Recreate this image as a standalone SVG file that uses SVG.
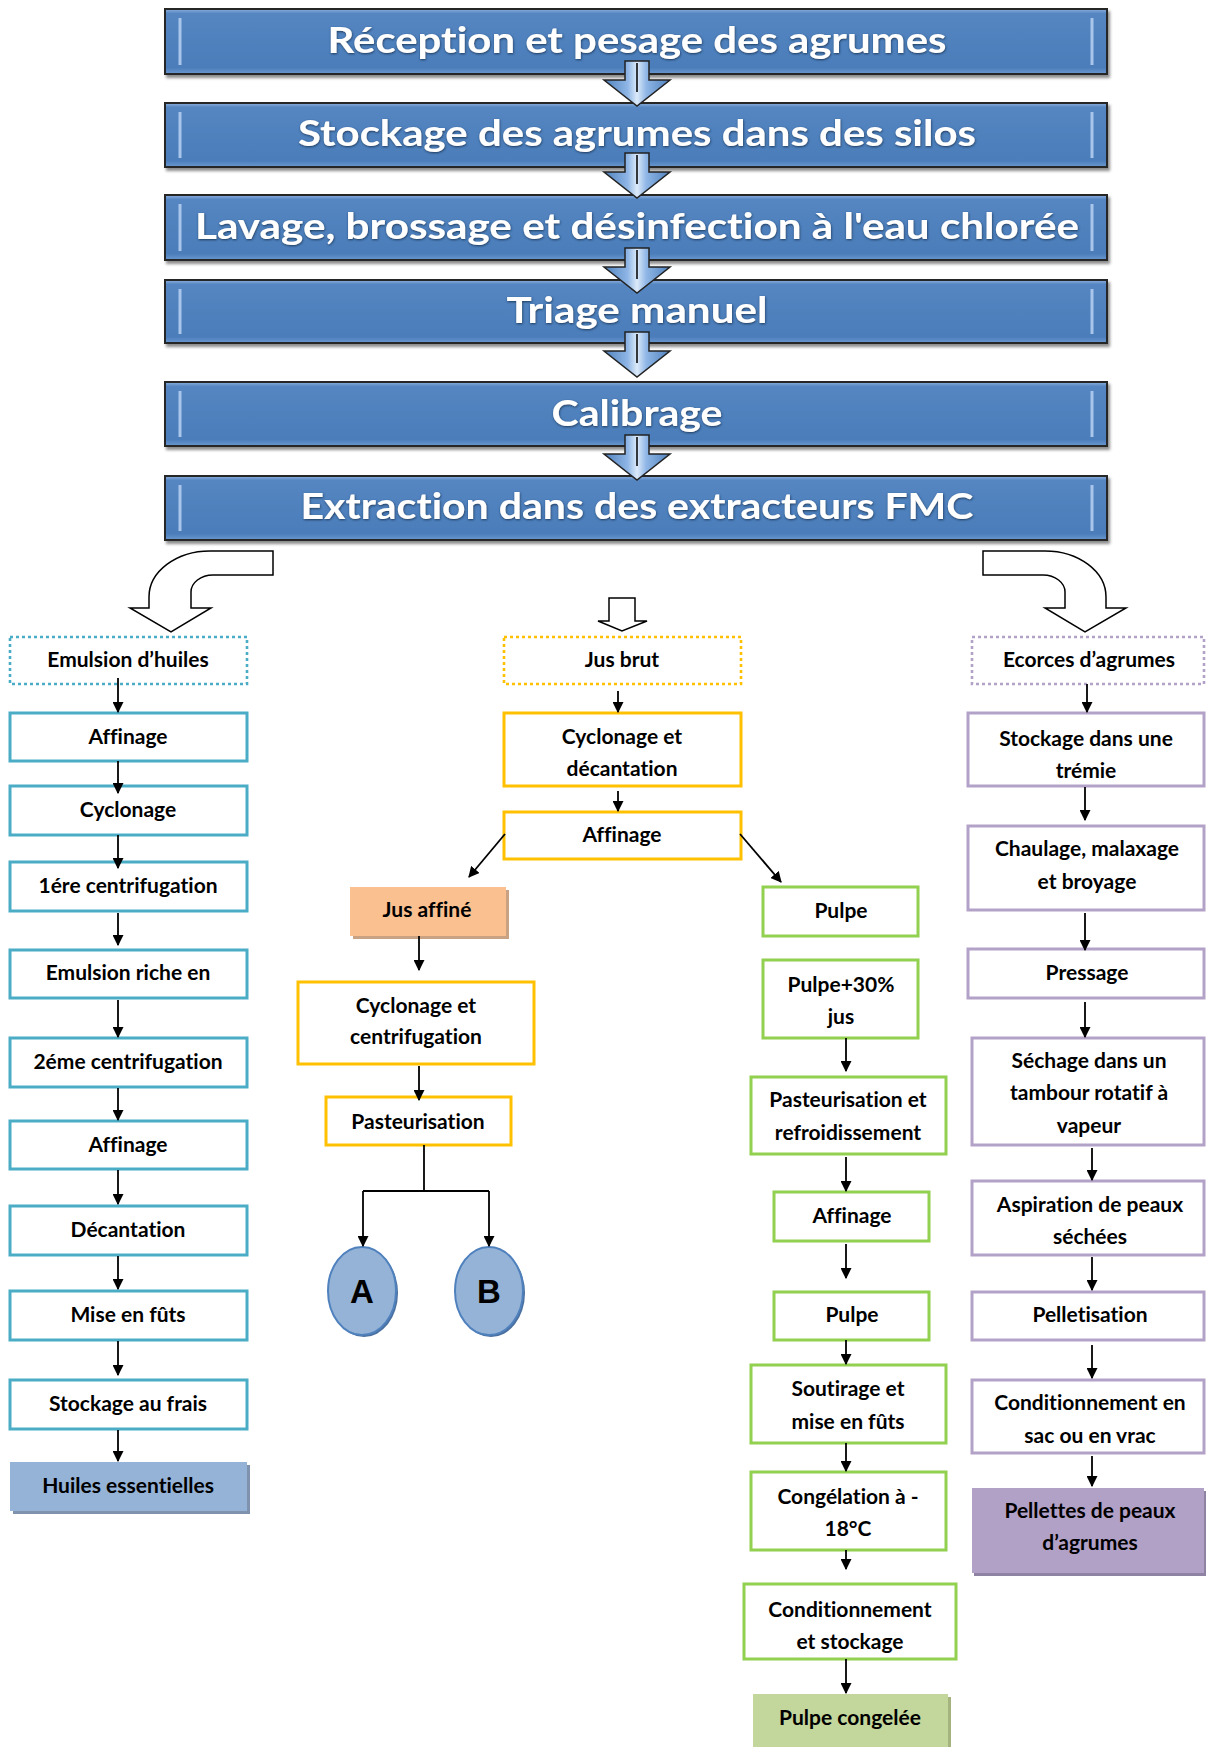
<svg xmlns="http://www.w3.org/2000/svg" width="1206" height="1747" viewBox="0 0 1206 1747">
<defs>
<style>
.t{font-family:Lato,"Liberation Sans",sans-serif;font-weight:bold;font-size:21px;fill:#000;text-anchor:middle;dominant-baseline:central;font-variant-ligatures:none;transform:translateY(-2px)}
.tt{font-family:Lato,"Liberation Sans",sans-serif;font-weight:bold;font-size:36px;fill:#fff;text-anchor:middle;dominant-baseline:central;font-variant-ligatures:none;transform:translateY(-2px)}
.ab{font-family:"Liberation Sans",Arial,sans-serif;font-weight:bold;font-size:33px;fill:#000;text-anchor:middle;dominant-baseline:central}
.bx{fill:#fff;stroke-width:3}
.teal{stroke:#4BACC6}
.yel{stroke:#FFC000}
.grn{stroke:#92D050}
.pur{stroke:#B3A2C7}
.dot{stroke-dasharray:3 3;stroke-width:2.6}
.top{fill:url(#gTop);stroke:#262626;stroke-width:2}
.bar{stroke:#A9C6EA;stroke-width:3}
.blk{fill:url(#gArr);stroke:#222;stroke-width:1.5;stroke-linejoin:miter}
.conn line,.conn polyline{stroke:#000;stroke-width:1.8;fill:none}
.ar{marker-end:url(#ah)}
.hollow{fill:#fff;stroke:#000;stroke-width:1.5}
.stripe{stroke:#fff;stroke-width:2;opacity:.85}
</style>
<linearGradient id="gTop" x1="0" y1="0" x2="0" y2="1">
<stop offset="0" stop-color="#8DB0DE"/>
<stop offset="0.07" stop-color="#5586C2"/>
<stop offset="0.5" stop-color="#4F81BD"/>
<stop offset="0.9" stop-color="#4B7DBA"/>
<stop offset="1" stop-color="#6A98D0"/>
</linearGradient>
<linearGradient id="gArr" x1="0" y1="0" x2="1" y2="0">
<stop offset="0" stop-color="#4F81BD"/>
<stop offset="0.36" stop-color="#8FB6E6"/>
<stop offset="0.5" stop-color="#DCEAF9"/>
<stop offset="0.64" stop-color="#8FB6E6"/>
<stop offset="1" stop-color="#4F81BD"/>
</linearGradient>
<filter id="sh" x="-5%" y="-20%" width="110%" height="150%">
<feDropShadow dx="2" dy="3" stdDeviation="1.5" flood-color="#000" flood-opacity="0.45"/>
</filter>
<filter id="tsh" x="-5%" y="-30%" width="110%" height="160%">
<feDropShadow dx="0.5" dy="1" stdDeviation="1.2" flood-color="#14304F" flood-opacity="0.9"/>
</filter>
<marker id="ah" viewBox="0 0 10 10" refX="9" refY="5" markerWidth="11" markerHeight="11" markerUnits="userSpaceOnUse" orient="auto">
<path d="M0,0 L10,5 L0,10 Z" fill="#000"/>
</marker>
<path id="blockArrow" d="M-12,0 L12,0 L12,19 L33,19 L0,45 L-33,19 L-12,19 Z"/>
</defs>
<rect x="0" y="0" width="1206" height="1747" fill="#fff"/>

<!-- Top process boxes -->
<g id="b1" filter="url(#sh)">
<rect class="top" x="165" y="9" width="942" height="65"/>
<line class="bar" x1="180" y1="18" x2="180" y2="65"/><line class="bar" x1="1092" y1="18" x2="1092" y2="65"/>
<text class="tt" x="637" y="41" textLength="619" lengthAdjust="spacingAndGlyphs" filter="url(#tsh)">Réception et pesage des agrumes</text>
</g>
<g id="b2" filter="url(#sh)">
<rect class="top" x="165" y="103" width="942" height="64"/>
<line class="bar" x1="180" y1="112" x2="180" y2="158"/><line class="bar" x1="1092" y1="112" x2="1092" y2="158"/>
<text class="tt" x="637" y="134" textLength="678" lengthAdjust="spacingAndGlyphs" filter="url(#tsh)">Stockage des agrumes dans des silos</text>
</g>
<g id="b3" filter="url(#sh)">
<rect class="top" x="165" y="195" width="942" height="65"/>
<line class="bar" x1="180" y1="204" x2="180" y2="251"/><line class="bar" x1="1092" y1="204" x2="1092" y2="251"/>
<text class="tt" x="637" y="227" textLength="884" lengthAdjust="spacingAndGlyphs" filter="url(#tsh)">Lavage, brossage et désinfection à l'eau chlorée</text>
</g>
<g id="b4" filter="url(#sh)">
<rect class="top" x="165" y="280" width="942" height="63"/>
<line class="bar" x1="180" y1="289" x2="180" y2="334"/><line class="bar" x1="1092" y1="289" x2="1092" y2="334"/>
<text class="tt" x="637" y="311" textLength="261" lengthAdjust="spacingAndGlyphs" filter="url(#tsh)">Triage manuel</text>
</g>
<g id="b5" filter="url(#sh)">
<rect class="top" x="165" y="382" width="942" height="64"/>
<line class="bar" x1="180" y1="391" x2="180" y2="437"/><line class="bar" x1="1092" y1="391" x2="1092" y2="437"/>
<text class="tt" x="637" y="414" textLength="171" lengthAdjust="spacingAndGlyphs" filter="url(#tsh)">Calibrage</text>
</g>
<g id="b6" filter="url(#sh)">
<rect class="top" x="165" y="476" width="942" height="64"/>
<line class="bar" x1="180" y1="485" x2="180" y2="531"/><line class="bar" x1="1092" y1="485" x2="1092" y2="531"/>
<text class="tt" x="637" y="507" textLength="673" lengthAdjust="spacingAndGlyphs" filter="url(#tsh)">Extraction dans des extracteurs FMC</text>
</g>

<!-- Left column -->
<g id="n_emulsion"><rect class="bx teal dot" x="10" y="637" width="237" height="47"/><text class="t" x="128" y="660">Emulsion d’huiles</text></g>
<g id="n_affinage1"><rect class="bx teal" x="10" y="713" width="237" height="48"/><text class="t" x="128" y="737">Affinage</text></g>
<g id="n_cyclonage1"><rect class="bx teal" x="10" y="786" width="237" height="49"/><text class="t" x="128" y="810">Cyclonage</text></g>
<g id="n_centrif1"><rect class="bx teal" x="10" y="862" width="237" height="49"/><text class="t" x="128" y="886">1ére centrifugation</text></g>
<g id="n_emulsion_riche"><rect class="bx teal" x="10" y="950" width="237" height="48"/><text class="t" x="128" y="973">Emulsion riche en</text></g>
<g id="n_centrif2"><rect class="bx teal" x="10" y="1038" width="237" height="49"/><text class="t" x="128" y="1062">2éme centrifugation</text></g>
<g id="n_affinage2"><rect class="bx teal" x="10" y="1121" width="237" height="48"/><text class="t" x="128" y="1145">Affinage</text></g>
<g id="n_decantation"><rect class="bx teal" x="10" y="1206" width="237" height="49"/><text class="t" x="128" y="1230">Décantation</text></g>
<g id="n_mise_futs"><rect class="bx teal" x="10" y="1291" width="237" height="49"/><text class="t" x="128" y="1315">Mise en fûts</text></g>
<g id="n_stock_frais"><rect class="bx teal" x="10" y="1380" width="237" height="49"/><text class="t" x="128" y="1404">Stockage au frais</text></g>
<g id="n_huiles"><rect x="13" y="1465" width="237" height="49" fill="#7F93AF"/><rect x="10" y="1462" width="237" height="49" fill="#95B3D7"/><text class="t" x="128" y="1486">Huiles essentielles</text></g>

<!-- Centre column -->
<g id="n_jus_brut"><rect class="bx yel dot" x="504" y="637" width="237" height="47"/><text class="t" x="622" y="660">Jus brut</text></g>
<g id="n_cyc_dec"><rect class="bx yel" x="504" y="713" width="237" height="73"/><text class="t" x="622" y="737">Cyclonage et</text><text class="t" x="622" y="769">décantation</text></g>
<g id="n_affinage_c"><rect class="bx yel" x="504" y="812" width="237" height="47"/><text class="t" x="622" y="835">Affinage</text></g>
<g id="n_jus_affine"><rect x="353" y="890" width="156" height="49" fill="#C9A283"/><rect x="350" y="887" width="156" height="49" fill="#FAC090"/><text class="t" x="427" y="910">Jus affiné</text></g>
<g id="n_cyc_cent"><rect class="bx yel" x="298" y="982" width="236" height="82"/><text class="t" x="416" y="1006">Cyclonage et</text><text class="t" x="416" y="1037">centrifugation</text></g>
<g id="n_pasteurisation"><rect class="bx yel" x="326" y="1097" width="185" height="48"/><text class="t" x="418" y="1122">Pasteurisation</text></g>
<g id="n_A"><ellipse cx="364" cy="1293" rx="34" ry="44" fill="#4A6F9E"/><ellipse cx="362" cy="1291" rx="34" ry="44" fill="#95B3D7" stroke="#4F81BD" stroke-width="2"/><text class="ab" x="362" y="1291">A</text></g>
<g id="n_B"><ellipse cx="491" cy="1293" rx="34" ry="44" fill="#4A6F9E"/><ellipse cx="489" cy="1291" rx="34" ry="44" fill="#95B3D7" stroke="#4F81BD" stroke-width="2"/><text class="ab" x="489" y="1291">B</text></g>

<!-- Green column -->
<g id="n_pulpe1"><rect class="bx grn" x="763" y="887" width="155" height="49"/><text class="t" x="841" y="911">Pulpe</text></g>
<g id="n_pulpe30"><rect class="bx grn" x="763" y="960" width="155" height="78"/><text class="t" x="841" y="985">Pulpe+30%</text><text class="t" x="841" y="1017">jus</text></g>
<g id="n_past_refr"><rect class="bx grn" x="751" y="1077" width="195" height="77"/><text class="t" x="848" y="1100">Pasteurisation et</text><text class="t" x="848" y="1133">refroidissement</text></g>
<g id="n_affinage_g"><rect class="bx grn" x="774" y="1192" width="155" height="49"/><text class="t" x="852" y="1216">Affinage</text></g>
<g id="n_pulpe2"><rect class="bx grn" x="774" y="1292" width="155" height="48"/><text class="t" x="852" y="1315">Pulpe</text></g>
<g id="n_soutirage"><rect class="bx grn" x="751" y="1365" width="195" height="78"/><text class="t" x="848" y="1389">Soutirage et</text><text class="t" x="848" y="1422">mise en fûts</text></g>
<g id="n_congelation"><rect class="bx grn" x="751" y="1472" width="195" height="78"/><text class="t" x="848" y="1497">Congélation à -</text><text class="t" x="848" y="1529">18°C</text></g>
<g id="n_cond_stock"><rect class="bx grn" x="744" y="1584" width="212" height="75"/><text class="t" x="850" y="1610">Conditionnement</text><text class="t" x="850" y="1642">et stockage</text></g>
<g id="n_pulpe_congelee"><rect x="756" y="1697" width="195" height="60" fill="#A5B37F"/><rect x="753" y="1694" width="195" height="60" fill="#C3D69B"/><text class="t" x="850" y="1718">Pulpe congelée</text></g>

<!-- Purple column -->
<g id="n_ecorces"><rect class="bx pur dot" x="972" y="637" width="232" height="47"/><text class="t" x="1089" y="660">Ecorces d’agrumes</text></g>
<g id="n_stock_tremie"><rect class="bx pur" x="968" y="713" width="236" height="73"/><text class="t" x="1086" y="739">Stockage dans une</text><text class="t" x="1086" y="771">trémie</text></g>
<g id="n_chaulage"><rect class="bx pur" x="968" y="826" width="236" height="84"/><text class="t" x="1087" y="849">Chaulage, malaxage</text><text class="t" x="1087" y="882">et broyage</text></g>
<g id="n_pressage"><rect class="bx pur" x="968" y="949" width="236" height="49"/><text class="t" x="1087" y="973">Pressage</text></g>
<g id="n_sechage"><rect class="bx pur" x="972" y="1038" width="232" height="107"/><text class="t" x="1089" y="1061">Séchage dans un</text><text class="t" x="1089" y="1093">tambour rotatif à</text><text class="t" x="1089" y="1126">vapeur</text></g>
<g id="n_aspiration"><rect class="bx pur" x="972" y="1181" width="232" height="74"/><text class="t" x="1090" y="1205">Aspiration de peaux</text><text class="t" x="1090" y="1237">séchées</text></g>
<g id="n_pelletisation"><rect class="bx pur" x="972" y="1292" width="232" height="48"/><text class="t" x="1090" y="1315">Pelletisation</text></g>
<g id="n_cond_sac"><rect class="bx pur" x="972" y="1380" width="232" height="73"/><text class="t" x="1090" y="1403">Conditionnement en</text><text class="t" x="1090" y="1436">sac ou en vrac</text></g>
<g id="n_pellettes"><rect x="974" y="1491" width="232" height="85" fill="#8F83A3"/><rect x="972" y="1488" width="232" height="85" fill="#B2A1C7"/><text class="t" x="1090" y="1511">Pellettes de peaux</text><text class="t" x="1090" y="1543">d’agrumes</text></g>

<!-- Connectors -->
<g id="connectors" class="conn">
<use href="#blockArrow" class="blk" x="637" y="61"/>
<use href="#blockArrow" class="blk" x="637" y="153"/>
<use href="#blockArrow" class="blk" x="637" y="248"/>
<use href="#blockArrow" class="blk" x="637" y="332"/>
<use href="#blockArrow" class="blk" x="637" y="435"/>
<line class="stripe" x1="637" y1="63" x2="637" y2="92"/>
<line class="stripe" x1="637" y1="155" x2="637" y2="184"/>
<line class="stripe" x1="637" y1="250" x2="637" y2="279"/>
<line class="stripe" x1="637" y1="334" x2="637" y2="363"/>
<line class="stripe" x1="637" y1="437" x2="637" y2="466"/>

<path class="hollow" d="M273,551 L210,551 A61 46 0 0 0 149,597 L149,608 L130,608 L171,632 L211,608 L191,608 L191,592 A22 17 0 0 1 213,575 L273,575 Z"/>
<path class="hollow" d="M609,598 L635,598 L635,621 L647,621 L622,631 L598,621 L609,621 Z"/>
<path class="hollow" d="M983,551 L1045,551 A61 46 0 0 1 1106,597 L1106,608 L1126,608 L1085,632 L1045,608 L1065,608 L1065,592 A22 17 0 0 0 1043,575 L983,575 Z"/>

<line class="ar" x1="118" y1="678" x2="118" y2="712"/>
<line class="ar" x1="118" y1="761" x2="118" y2="793"/>
<line class="ar" x1="118" y1="835" x2="118" y2="868"/>
<line class="ar" x1="118" y1="913" x2="118" y2="945"/>
<line class="ar" x1="118" y1="1000" x2="118" y2="1037"/>
<line class="ar" x1="118" y1="1088" x2="118" y2="1120"/>
<line class="ar" x1="118" y1="1170" x2="118" y2="1204"/>
<line class="ar" x1="118" y1="1256" x2="118" y2="1289"/>
<line class="ar" x1="118" y1="1341" x2="118" y2="1375"/>
<line class="ar" x1="118" y1="1430" x2="118" y2="1461"/>

<line class="ar" x1="618" y1="691" x2="618" y2="712"/>
<line class="ar" x1="618" y1="791" x2="618" y2="811"/>
<line class="ar" x1="505" y1="834" x2="469" y2="877"/>
<line class="ar" x1="740" y1="834" x2="781" y2="882"/>
<line class="ar" x1="419" y1="936" x2="419" y2="970"/>
<line class="ar" x1="419" y1="1066" x2="419" y2="1100"/>
<line x1="424" y1="1145" x2="424" y2="1191"/>
<line x1="363" y1="1191" x2="489" y2="1191"/>
<line class="ar" x1="363" y1="1191" x2="363" y2="1246"/>
<line class="ar" x1="489" y1="1191" x2="489" y2="1246"/>

<line class="ar" x1="846" y1="1038" x2="846" y2="1071"/>
<line class="ar" x1="846" y1="1157" x2="846" y2="1191"/>
<line class="ar" x1="846" y1="1244" x2="846" y2="1278"/>
<line class="ar" x1="846" y1="1340" x2="846" y2="1364"/>
<line class="ar" x1="846" y1="1443" x2="846" y2="1471"/>
<line class="ar" x1="846" y1="1550" x2="846" y2="1569"/>
<line class="ar" x1="846" y1="1659" x2="846" y2="1693"/>

<line class="ar" x1="1087" y1="684" x2="1087" y2="712"/>
<line class="ar" x1="1085" y1="787" x2="1085" y2="820"/>
<line class="ar" x1="1085" y1="913" x2="1085" y2="950"/>
<line class="ar" x1="1085" y1="1002" x2="1085" y2="1037"/>
<line class="ar" x1="1092" y1="1148" x2="1092" y2="1180"/>
<line class="ar" x1="1092" y1="1257" x2="1092" y2="1290"/>
<line class="ar" x1="1092" y1="1345" x2="1092" y2="1378"/>
<line class="ar" x1="1092" y1="1456" x2="1092" y2="1486"/>
</g>
</svg>
